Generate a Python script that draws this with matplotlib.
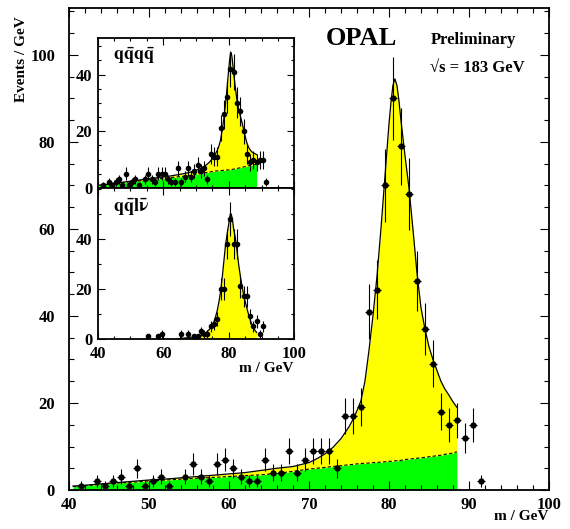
import matplotlib
matplotlib.use('Agg')
import matplotlib.pyplot as plt
import numpy as np
from matplotlib.ticker import MultipleLocator

plt.rcParams['font.family'] = ['Liberation Serif', 'DejaVu Serif']
plt.rcParams['font.weight'] = 'bold'
plt.rcParams['mathtext.fontset'] = 'stix'

# 1 GeV bins, centres 41.5 ... 91.5
centres = np.arange(41.5, 92.0, 1.0)

# events per bin, all channels (main plot)
n_all = [1, 0, 2, 1, 2, 3, 1, 5, 1, 2, 3, 1, 0, 3, 6, 3, 2, 6, 7, 5,
         3, 2, 2, 7, 4, 4, 9, 4, 7, 9, 9, 9, 5, 17, 17, 19, 41, 46, 70, 90,
         79, 68, 48, 37, 29, 18, 15, 16, 12, 15, 2]
# qqqq channel (upper inset)
n_qqqq = [1, 0, 2, 1, 2, 3, 1, 5, 1, 2, 3, 1, 0, 3, 5, 3, 2, 5, 5, 5,
          3, 2, 2, 7, 2, 4, 7, 4, 6, 8, 6, 7, 3, 12, 11, 11, 21, 26, 32, 42,
          41, 30, 27, 20, 12, 9, 10, 9, 10, 10, 2]
# qqlv channel (lower inset)
n_qqlv = [0, 0, 0, 0, 0, 0, 0, 0, 0, 0, 0, 0, 0, 0, 1, 0, 0, 1, 2, 0,
          0, 0, 0, 0, 2, 0, 2, 0, 1, 1, 3, 2, 2, 5, 6, 8, 20, 20, 38, 48,
          38, 38, 21, 17, 17, 9, 5, 7, 2, 5, 0]

# fit curves
m_fit = [40.5, 42, 44, 46, 48, 50, 52, 54, 56, 58, 60, 62, 64, 66, 68, 70,
         71, 72, 73, 74, 75, 75.5, 76, 76.5, 77, 77.5, 78, 78.5, 79, 79.5,
         80, 80.25, 80.5, 80.75, 81, 81.25, 81.5, 82, 82.5, 83, 83.5, 84,
         84.5, 85, 85.5, 86, 86.5, 87, 87.5, 88, 88.5]
all_bkg = [0.8, 1.0, 1.3, 1.6, 1.8, 2.1, 2.3, 2.5, 2.7, 2.9, 3.1, 3.3, 3.5,
           3.8, 4.3, 4.8, 5.0, 5.2, 5.4, 5.6, 5.8, 5.9, 6.0, 6.1, 6.15, 6.2,
           6.3, 6.35, 6.4, 6.5, 6.6, 6.6, 6.65, 6.7, 6.75, 6.8, 6.8, 7.0,
           7.1, 7.2, 7.3, 7.4, 7.5, 7.65, 7.75, 7.9, 8.0, 8.2, 8.35, 8.5, 8.8]
all_tot = [0.9, 1.1, 1.4, 1.7, 2.0, 2.3, 2.5, 2.8, 3.1, 3.4, 3.7, 4.0, 4.5,
           5.0, 5.4, 6.3, 7.2, 8.3, 9.8, 11.8, 14.5, 16.2, 18.2, 20.5, 25,
           32, 40, 49, 60, 72, 84, 89, 93, 94.5, 93, 89.5, 85, 77, 69.5, 60,
           50, 42, 37, 33, 30, 27.5, 25, 23.2, 21.8, 20.3, 19]
qqqq_bkg = [0.9, 1.1, 1.4, 1.6, 1.9, 2.2, 2.4, 2.7, 2.9, 3.2, 3.4, 3.6, 3.9,
            4.1, 4.4, 4.8, 5.0, 5.2, 5.4, 5.6, 5.8, 5.9, 6.0, 6.05, 6.1,
            6.15, 6.2, 6.25, 6.3, 6.35, 6.4, 6.45, 6.5, 6.5, 6.55, 6.6, 6.65,
            6.8, 6.9, 7.0, 7.15, 7.3, 7.4, 7.55, 7.7, 7.85, 7.95, 8.05, 8.15,
            8.25, 8.3]
qqqq_tot = [1.0, 1.2, 1.5, 1.8, 2.1, 2.4, 2.7, 3.0, 3.3, 3.6, 3.9, 4.2, 4.6,
            5.0, 5.5, 6.2, 6.7, 7.3, 8.0, 9.0, 10.3, 11.2, 12.2, 13.3, 14.8,
            17, 20.5, 24.5, 29.5, 35.5, 42, 45, 47.3, 47.7, 46, 43.5, 40.5,
            35.5, 31, 28, 25.5, 23.3, 20.8, 18.3, 16, 14.5, 13.5, 12.8, 12.4,
            12.1, 11.8]
m_fit_lv = [64, 66, 68, 70, 71, 72, 73, 74, 75, 75.5, 76, 76.5, 77, 77.5, 78,
            78.5, 79, 79.5, 80, 80.25, 80.5, 80.75, 81, 81.25, 81.5, 82, 82.5,
            83, 83.5, 84, 84.5, 85, 85.5, 86, 86.5, 87, 87.5, 88, 88.5]
qqlv_tot = [0.0, 0.3, 0.6, 1.0, 1.3, 1.8, 2.5, 3.7, 5.3, 7.0, 9.0, 11.5, 14.8,
            19, 24.5, 31, 37.5, 42, 46, 48.5, 50, 50, 48.5, 46.5, 44, 40.5,
            35.5, 30, 25.5, 21.5, 18, 15, 12.5, 10, 7.8, 6, 4.6, 3.5, 2.6]

YELLOW = '#ffff00'
GREEN = '#00ff00'


def style(ax, major_y, minor_y, minor_x, big):
    ax.set_xlim(40, 100)
    ax.xaxis.set_minor_locator(MultipleLocator(minor_x))
    ax.yaxis.set_major_locator(MultipleLocator(major_y))
    ax.yaxis.set_minor_locator(MultipleLocator(minor_y))
    ax.tick_params(which='both', direction='in', top=True, right=True,
                   labelsize=12, width=0.8)
    ax.tick_params(which='major', length=6.5 if big else 5)
    ax.tick_params(which='minor', length=3.5 if big else 2.5)
    for s in ax.spines.values():
        s.set_linewidth(1.3)


def points(ax, counts, ms):
    c = np.array(counts, float)
    ok = c > 0
    ax.errorbar(centres[ok], c[ok], xerr=0.5, yerr=np.sqrt(c[ok]), fmt='o',
                color='black', ms=ms, elinewidth=0.8, capsize=0, zorder=5)


def fit(ax, x, bkg, tot):
    if bkg is None:
        ax.fill_between(x, 0, tot, color=YELLOW, lw=0)
    else:
        ax.fill_between(x, 0, bkg, color=GREEN, lw=0)
        ax.fill_between(x, bkg, tot, color=YELLOW, lw=0)
        ax.plot(x, bkg, color='black', lw=0.8, ls=(0, (3, 2)))
    ax.plot(x, tot, color='black', lw=0.9)


fig = plt.figure(figsize=(5.7, 5.29), dpi=100)

ax = fig.add_axes([0.121, 0.0737, 0.842, 0.9113])
fit(ax, m_fit, all_bkg, all_tot)
points(ax, n_all, 3.5)
style(ax, 20, 5, 2, True)
ax.set_ylim(0, 110.8)
ax.set_xticks([40, 50, 60, 70, 80, 90, 100])
ax.tick_params(axis='y', pad=10)
ax.tick_params(axis='x', pad=5)

fig.text(0.037, 0.888, 'Events / GeV', rotation=90, ha='center', va='center',
         fontsize=11)
fig.text(0.962, 0.023, 'm / GeV', ha='right', va='center', fontsize=11)
fig.text(0.6346, 0.928, 'OPAL', ha='center', va='center', fontsize=19)
fig.text(0.756, 0.924, 'Preliminary', ha='left', va='center', fontsize=12)
fig.text(0.754, 0.871, '√s = 183 GeV', ha='left', va='center', fontsize=12)

ins1 = fig.add_axes([0.1714, 0.6446, 0.3449, 0.2841])
fit(ins1, m_fit, qqqq_bkg, qqqq_tot)
points(ins1, n_qqqq, 3)
style(ins1, 20, 5, 5, False)
ins1.set_ylim(0, 53)
ins1.set_xticks([40, 60, 80, 100])
ins1.tick_params(axis='x', labelbottom=False)
ins1.tick_params(axis='y', pad=4)
ins1.text(0.08, 0.88, r'$\mathbf{q\bar{q}q\bar{q}}$', transform=ins1.transAxes,
          ha='left', va='center', fontsize=13)

ins2 = fig.add_axes([0.1714, 0.3592, 0.3449, 0.2854])
fit(ins2, m_fit_lv, None, qqlv_tot)
points(ins2, n_qqlv, 3)
style(ins2, 20, 10, 5, False)
ins2.set_ylim(0, 60.4)
ins2.set_yticks([0, 20, 40])
ins2.set_xticks([40, 60, 80, 100])
ins2.tick_params(axis='y', pad=4)
ins2.tick_params(axis='x', pad=5)
ins2.text(0.08, 0.88, r'$\mathbf{q\bar{q}l\bar{\nu}}$', transform=ins2.transAxes,
          ha='left', va='center', fontsize=13)
fig.text(0.514, 0.3043, 'm / GeV', ha='right', va='center', fontsize=11)

fig.savefig('out.png', dpi=100)
